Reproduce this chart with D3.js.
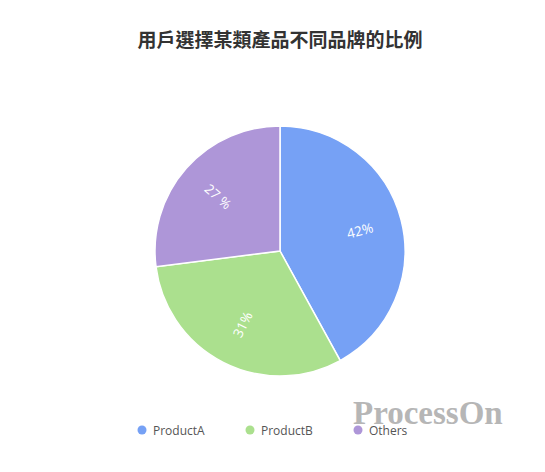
<!DOCTYPE html>
<html>
<head>
<meta charset="utf-8">
<script src="https://cdn.jsdelivr.net/npm/d3@7"></script>
<style>
  body { margin: 0; background: #fff; }
  #chart-container { width: 545px; height: 472px; }
</style>
</head>
<body>
<div id="chart-container"></div>
<script>
const title = "用戶選擇某類產品不同品牌的比例";
const brands = ["ProductA", "ProductB", "Others"];
const shares = [42, 31, 27];
const labels = ["42%", "31%", "27 %"];
const colors = ["#76a1f5", "#abe08e", "#ae96d8"];

const W = 545, H = 472;
const cx = 280, cy = 251, radius = 125;

const svg = d3.select("#chart-container")
  .append("svg")
  .attr("width", W)
  .attr("height", H);

svg.append("text")
  .attr("x", cx).attr("y", 47)
  .attr("text-anchor", "middle")
  .attr("font-family", "'Noto Sans CJK TC', 'Noto Sans CJK SC', sans-serif")
  .attr("font-weight", "bold")
  .attr("font-size", 19)
  .attr("fill", "#333")
  .text(title);

const data = brands.map((b, i) => ({ brand: b, value: shares[i], label: labels[i], color: colors[i] }));

const pie = d3.pie().sort(null).value(d => d.value);
const arc = d3.arc().innerRadius(0).outerRadius(radius);
const labelArc = d3.arc().innerRadius(radius * 0.66).outerRadius(radius * 0.66);

const g = svg.append("g").attr("transform", `translate(${cx},${cy})`);
const arcs = pie(data);

g.selectAll("path")
  .data(arcs)
  .join("path")
  .attr("d", arc)
  .attr("fill", d => d.data.color)
  .attr("stroke", "#fff")
  .attr("stroke-width", 1.5);

// radial labels, flipped so they stay readable
g.selectAll("text.val")
  .data(arcs)
  .join("text")
  .attr("class", "val")
  .attr("transform", d => {
    const [x, y] = labelArc.centroid(d);
    const mid = (d.startAngle + d.endAngle) / 2 * 180 / Math.PI;
    let rot = mid - 90;
    if (rot > 90) rot -= 180;
    return `translate(${x},${y}) rotate(${rot})`;
  })
  .attr("text-anchor", "middle")
  .attr("dominant-baseline", "central")
  .attr("font-family", "'Open Sans', sans-serif")
  .attr("font-size", 13.5)
  .attr("fill", "#fff")
  .text(d => d.data.label);

// legend
const legendX = d3.scalePoint().domain(brands).range([142, 358]);
const legend = svg.append("g").selectAll("g")
  .data(data)
  .join("g")
  .attr("transform", d => `translate(${legendX(d.brand)},430)`);

legend.append("circle")
  .attr("r", 4.5)
  .attr("fill", d => d.color);

legend.append("text")
  .attr("x", 11).attr("y", 0)
  .attr("dominant-baseline", "central")
  .attr("font-family", "'Open Sans', sans-serif")
  .attr("font-size", 12)
  .attr("fill", "#555")
  .text(d => d.brand);

// watermark
svg.append("text")
  .attr("x", 353).attr("y", 424)
  .attr("font-family", "'Liberation Serif', serif")
  .attr("font-weight", "bold")
  .attr("font-size", 33)
  .attr("fill", "#aaa")
  .attr("opacity", 0.85)
  .text("ProcessOn");
</script>
</body>
</html>
